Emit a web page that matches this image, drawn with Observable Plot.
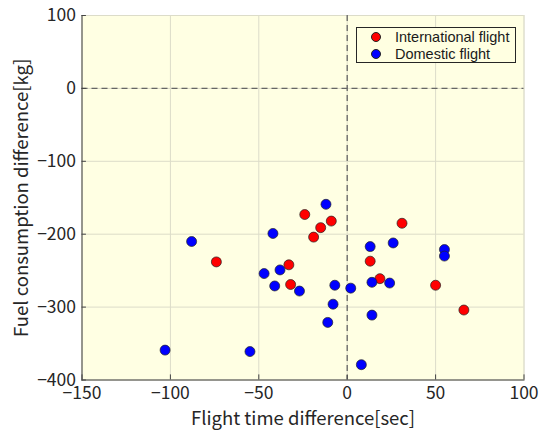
<!DOCTYPE html>
<html><head><meta charset="utf-8">
<script src="https://cdn.jsdelivr.net/npm/d3@7"></script>
<script src="https://cdn.jsdelivr.net/npm/@observablehq/plot@0.6"></script>
<style>
body{margin:0;background:#fff}
#wrap{position:relative;width:546px;height:430px}
.legend{position:absolute;left:356px;top:27px;width:160px;height:36px;box-sizing:border-box;border:1px solid #262626;background:#ffffe1;font-family:"Liberation Sans",Arial,sans-serif;font-size:14.5px;color:#1a1a1a}
.legend .row{position:absolute;left:0;height:16px;white-space:nowrap}
.legend .dot{position:absolute;left:14px;top:3px;width:10px;height:10px;border-radius:50%;border:0.7px solid #222;box-sizing:border-box}
.legend .lab{position:absolute;left:38px;top:0;line-height:16px}
</style>
</head><body>
<div id="wrap"></div>
<script>
const intlX = [-24, -9, -15, -19, -74, -33, -32, 31, 13, 18.5, 50, 66];
const intlY = [-173, -182, -191, -204, -238, -242, -269, -185, -237, -261, -270, -304];
const domX = [-12, -42, -88, -38, -47, -41, -27, -7, 2, -8, -11, -103, -55, 26, 13, 55, 55, 14, 24, 14, 8];
const domY = [-159, -199, -210, -249, -254, -271, -278, -270, -274, -296, -321, -359, -361, -212, -217, -221, -230, -266, -267, -311, -379];
const seriesNames = ["International flight", "Domestic flight"];
const seriesColors = ["#ff0000", "#0000ff"];
const xTicks = [-150, -100, -50, 0, 50, 100];
const yTicks = [-400, -300, -200, -100, 0, 100];
const xTitle = "Flight time difference[sec]";
const yTitle = "Fuel consumption difference[kg]";

const intl = intlX.map((x, i) => ({x, y: intlY[i]}));
const dom = domX.map((x, i) => ({x, y: domY[i]}));
const font = '"Noto Sans CJK JP", sans-serif';

const chart = Plot.plot({
  width: 546, height: 430,
  marginLeft: 81.5, marginRight: 22.5, marginTop: 15, marginBottom: 50.5,
  style: {fontFamily: font, fontSize: "18px", color: "#262626", background: "transparent"},
  x: {domain: [-150, 100], ticks: xTicks},
  y: {domain: [-400, 100], ticks: yTicks},
  marks: [
    Plot.frame({fill: "#ffffe3", stroke: "#e3e3d5", strokeWidth: 1}),
    Plot.gridX(xTicks, {stroke: "#dcdcc9", strokeOpacity: 1, strokeWidth: 1}),
    Plot.gridY(yTicks, {stroke: "#dcdcc9", strokeOpacity: 1, strokeWidth: 1}),
    Plot.ruleX([0], {stroke: "#666", strokeWidth: 1.3, strokeDasharray: "6,4"}),
    Plot.ruleY([0], {stroke: "#666", strokeWidth: 1.3, strokeDasharray: "6,4"}),
    Plot.ruleX(xTicks, {y1: -400, y2: -393, stroke: "#444"}),
    Plot.ruleY(yTicks, {x1: -150, x2: -147.5, stroke: "#444"}),
    Plot.frame({anchor: "bottom", stroke: "#444", strokeWidth: 1}),
    Plot.frame({anchor: "left", stroke: "#444", strokeWidth: 1}),
    Plot.axisX(xTicks, {tickSize: 0, tickPadding: 7, label: null, fontSize: 17.5, fill: "#262626"}),
    Plot.axisY(yTicks, {tickSize: 0, tickPadding: 6, label: null, fontSize: 17.5, fill: "#262626"}),
    Plot.dot(intl, {x: "x", y: "y", r: 5, fill: seriesColors[0], stroke: "#222", strokeWidth: 0.7}),
    Plot.dot(dom, {x: "x", y: "y", r: 5, fill: seriesColors[1], stroke: "#222", strokeWidth: 0.7}),
    Plot.text([xTitle], {frameAnchor: "bottom", lineAnchor: "middle", textAnchor: "middle", dy: 39.5, fontSize: 18.5, fill: "#262626"}),
    Plot.text([yTitle], {frameAnchor: "left", lineAnchor: "middle", textAnchor: "middle", rotate: -90, dx: -59.5, fontSize: 18.5, fill: "#262626"})
  ]
});
const wrap = document.getElementById("wrap");
wrap.appendChild(chart);
const leg = document.createElement("div");
leg.className = "legend";
seriesNames.forEach((n, i) => {
  const row = document.createElement("div");
  row.className = "row";
  row.style.top = (i * 17 + 0.5) + "px";
  row.innerHTML = `<span class="dot" style="background:${seriesColors[i]}"></span><span class="lab">${n}</span>`;
  leg.appendChild(row);
});
wrap.appendChild(leg);
</script>
</body></html>
